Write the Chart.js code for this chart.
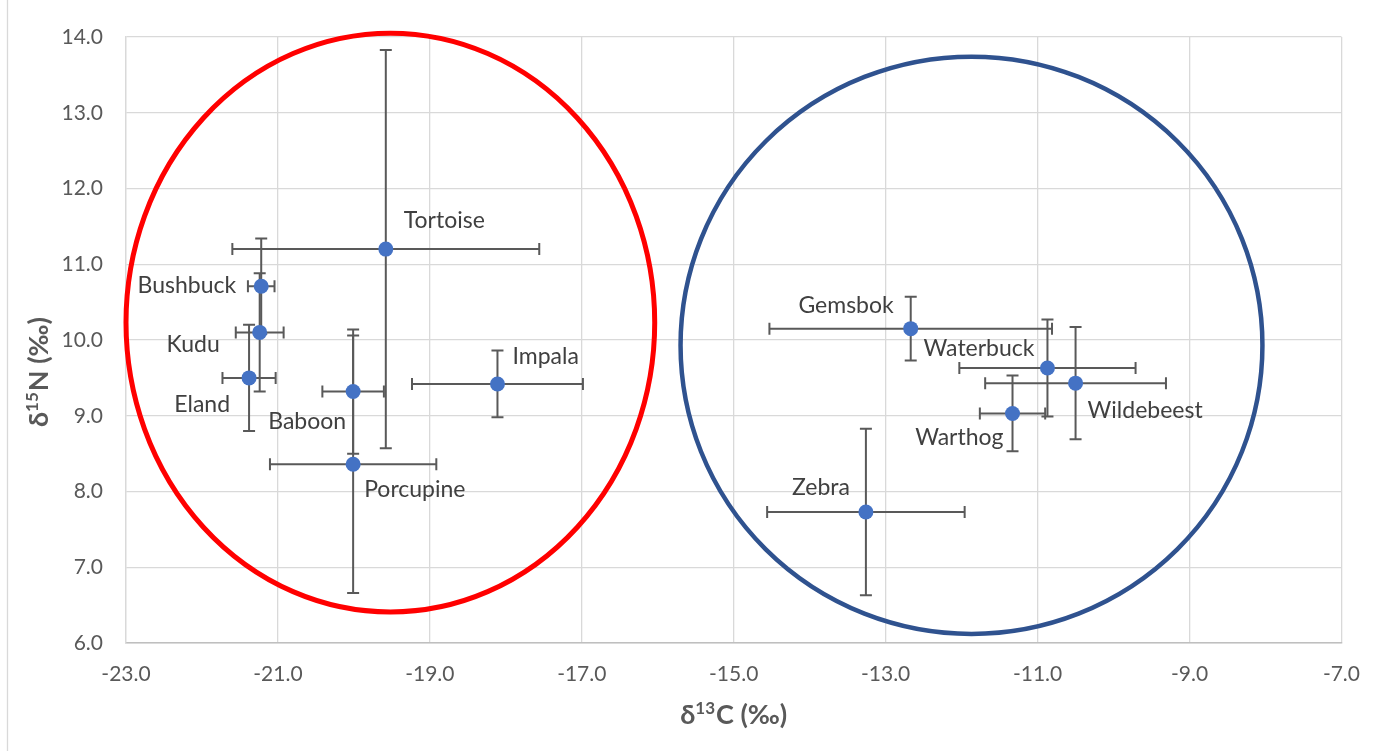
<!DOCTYPE html>
<html><head><meta charset="utf-8">
<script src="https://cdn.jsdelivr.net/npm/chart.js@4.4.1/dist/chart.umd.min.js"></script>
<style>html,body{margin:0;padding:0;background:#fff;}canvas{display:block;}</style>
</head><body>
<canvas id="c" width="1379" height="751"></canvas>
<script>
// ---- data ----
const species = ['Tortoise','Bushbuck','Kudu','Eland','Baboon','Porcupine','Impala','Gemsbok','Waterbuck','Wildebeest','Warthog','Zebra'];
const d13C = [-19.58,-21.22,-21.24,-21.38,-20.01,-20.01,-18.11,-12.67,-10.87,-10.50,-11.33,-13.26];
const d15N = [11.20,10.71,10.10,9.50,9.32,8.36,9.42,10.15,9.63,9.43,9.03,7.73];
const sdC  = [2.02,0.175,0.315,0.35,0.405,1.095,1.125,1.86,1.16,1.19,0.43,1.30];
const sdN  = [2.63,0.63,0.78,0.70,0.82,1.70,0.44,0.42,0.64,0.74,0.50,1.10];
const xTickValues = [-23,-21,-19,-17,-15,-13,-11,-9,-7];
const yTickValues = [6,7,8,9,10,11,12,13,14];
const xTitleParts = ['δ','13','C (‰)'];
const yTitleParts = ['δ','15','N (‰)'];
// group ellipses (data units)
const ellipseC  = [-19.52,-11.87];
const ellipseN  = [10.23,9.93];
const ellipseRC = [3.48,3.83];
const ellipseRN = [3.82,3.81];

// ---- styles / placement ----
const ellipseColors = ['#FF0000','#2F528F'];
const ellipseWidths = [5,4.5];
// label offsets in px from the point: [dx, dy(baseline), align]
const labelPlace = [
  [18,-21,'left'],[-25,7,'right'],[-40,20,'right'],[-19,34,'right'],[-7,37,'right'],
  [11,33,'left'],[15,-20,'left'],[-17,-16,'right'],[-13,-12,'right'],[12,35,'left'],
  [-9,32,'right'],[-16,-17,'right']
];
const FONT = 'Lato, "Open Sans", sans-serif';
const TITLE_MAIN = 'bold 27px ' + FONT;
const TITLE_SUP = 'bold 17px ' + FONT;

const pts = d13C.map((x,i)=>({x, y:d15N[i]}));

function drawTitle(ctx, parts, cx, cy){
  ctx.font = TITLE_MAIN; const w0 = ctx.measureText(parts[0]).width;
  const w2 = ctx.measureText(parts[2]).width;
  ctx.font = TITLE_SUP; const w1 = ctx.measureText(parts[1]).width + 1;
  const total = w0 + w1 + w2;
  let x = cx - total/2; const base = cy + 10;
  ctx.textAlign = 'left'; ctx.textBaseline = 'alphabetic';
  ctx.font = TITLE_MAIN; ctx.fillText(parts[0], x, base); x += w0;
  ctx.font = TITLE_SUP; ctx.fillText(parts[1], x, base - 10); x += w1;
  ctx.font = TITLE_MAIN; ctx.fillText(parts[2], x, base);
}

const overlay = {
  id:'overlay',
  beforeDraw(chart){
    const ctx = chart.ctx;
    ctx.save();
    ctx.strokeStyle = '#D9D9D9'; ctx.lineWidth = 1.3;
    ctx.beginPath(); ctx.moveTo(7.5,0); ctx.lineTo(7.5,751); ctx.stroke();
    ctx.restore();
  },
  beforeDatasetsDraw(chart){
    const ctx = chart.ctx, xs = chart.scales.x, ys = chart.scales.y;
    ctx.save();
    for (let i=0;i<ellipseC.length;i++){
      const cx = xs.getPixelForValue(ellipseC[i]);
      const cy = ys.getPixelForValue(ellipseN[i]);
      const rx = Math.abs(xs.getPixelForValue(ellipseC[i]+ellipseRC[i]) - cx);
      const ry = Math.abs(ys.getPixelForValue(ellipseN[i]+ellipseRN[i]) - cy);
      ctx.beginPath(); ctx.ellipse(cx,cy,rx,ry,0,0,Math.PI*2);
      ctx.strokeStyle = ellipseColors[i]; ctx.lineWidth = ellipseWidths[i]; ctx.stroke();
    }
    ctx.strokeStyle = '#595959'; ctx.lineWidth = 2;
    const cap = 6;
    for (let i=0;i<species.length;i++){
      const px = xs.getPixelForValue(d13C[i]), py = ys.getPixelForValue(d15N[i]);
      const x1 = xs.getPixelForValue(d13C[i]-sdC[i]), x2 = xs.getPixelForValue(d13C[i]+sdC[i]);
      const y1 = ys.getPixelForValue(d15N[i]+sdN[i]), y2 = ys.getPixelForValue(d15N[i]-sdN[i]);
      ctx.beginPath();
      ctx.moveTo(x1,py); ctx.lineTo(x2,py);
      ctx.moveTo(x1,py-cap); ctx.lineTo(x1,py+cap);
      ctx.moveTo(x2,py-cap); ctx.lineTo(x2,py+cap);
      ctx.moveTo(px,y1); ctx.lineTo(px,y2);
      ctx.moveTo(px-cap,y1); ctx.lineTo(px+cap,y1);
      ctx.moveTo(px-cap,y2); ctx.lineTo(px+cap,y2);
      ctx.stroke();
    }
    ctx.restore();
  },
  afterDatasetsDraw(chart){
    const ctx = chart.ctx, xs = chart.scales.x, ys = chart.scales.y, ca = chart.chartArea;
    ctx.save();
    ctx.font = '23px ' + FONT; ctx.fillStyle = '#404040'; ctx.textBaseline = 'alphabetic';
    for (let i=0;i<species.length;i++){
      const px = xs.getPixelForValue(d13C[i]), py = ys.getPixelForValue(d15N[i]);
      const [dx,dy,al] = labelPlace[i];
      ctx.textAlign = al;
      ctx.fillText(species[i], px+dx, py+dy);
    }
    ctx.fillStyle = '#595959';
    drawTitle(ctx, xTitleParts, (ca.left+ca.right)/2, 714);
    ctx.translate(37.5,372); ctx.rotate(-Math.PI/2);
    drawTitle(ctx, yTitleParts, 0, 0);
    ctx.restore();
  }
};

new Chart(document.getElementById('c'), {
  type:'scatter',
  data:{ datasets:[{ label:'Species', data:pts, pointRadius:7.5, pointHoverRadius:7.5,
    backgroundColor:'#4472C4', borderColor:'#4472C4', borderWidth:0 }]},
  options:{
    responsive:false, animation:false, devicePixelRatio:1,
    layout:{ padding:{left:0,right:35,top:37,bottom:0} },
    plugins:{ legend:{display:false}, tooltip:{enabled:false} },
    scales:{
      x:{ type:'linear', min:-23, max:-7,
        afterBuildTicks(s){ s.ticks = xTickValues.map(v=>({value:v})); },
        afterFit(s){ s.height = 108; },
        grid:{ color:'#D9D9D9', lineWidth:1.3, drawTicks:false },
        border:{ color:'#BFBFBF', width:1.5 },
        ticks:{ padding:19, color:'#595959', font:{family:FONT,size:21}, callback:v=>v.toFixed(1), maxRotation:0 },
        title:{ display:false }
      },
      y:{ type:'linear', min:6, max:14,
        afterBuildTicks(s){ s.ticks = yTickValues.map(v=>({value:v})); },
        afterFit(s){ s.width = 126; },
        grid:{ color:'#D9D9D9', lineWidth:1.3, drawTicks:false },
        border:{ color:'#D9D9D9', width:1.3 },
        ticks:{ padding:23, color:'#595959', font:{family:FONT,size:21}, callback:v=>v.toFixed(1) },
        title:{ display:false }
      }
    }
  },
  plugins:[overlay]
});
</script>
</body></html>
